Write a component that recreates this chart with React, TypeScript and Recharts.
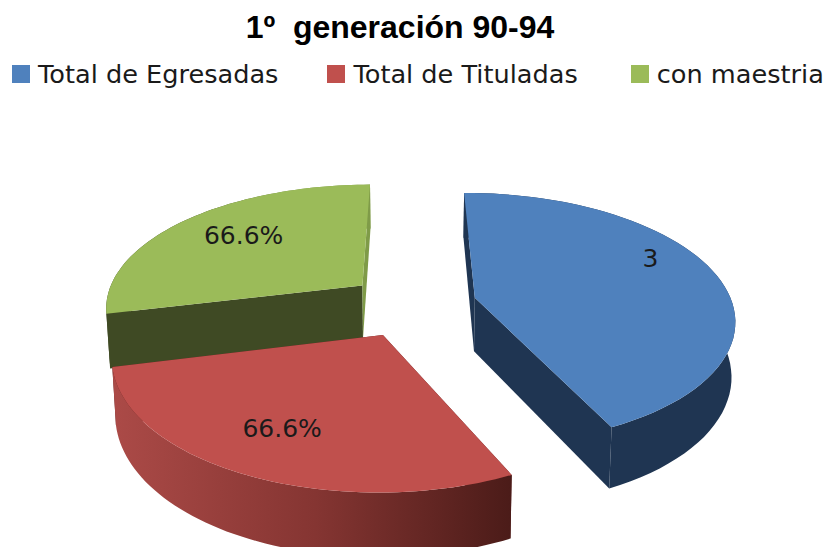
import { PieChart, Pie, Legend } from 'recharts';

const categories = ['Total de Egresadas', 'Total de Tituladas', 'con maestria'];
const values = [3, 2, 2];
const sliceLabels = ['3', '66.6%', '66.6%'];
const colors = ['#4f81bd', '#c0504d', '#9bbb59'];

// painted back to front, so the red wall sits over the green one
const drawOrder = [2, 0, 1];
const tableData = drawOrder.map((i) => ({ name: categories[i], value: values[i], fill: colors[i], idx: i }));

const WALLS = [
  { outer: '#1f3552', start: '#1f3552', end: '#1f3552' },
  { outer: 'url(#redWall)', start: '#5a2220', end: '#5a2220' },
  { outer: 'url(#greenWall)', start: '#3f4a24', end: '#7f9b48' },
];
const LABEL_RADIUS = [0.81, 0.71, 0.69];
const LABEL_TURN = [11, -2.5, -2];

const CX = 412;
const CY = 305;
const RADIUS = 258;
const EXPLODE = 65;
const SQUASH = 0.495;
const PERSPECTIVE = 0.16;
const DEPTH = 54;
const RAD = Math.PI / 180;

// flat pie coordinates to the tilted view
function project(wx: number, wy: number, low = false) {
  const s = 1 + (PERSPECTIVE * wy) / RADIUS;
  const k = low ? 0.988 : 1;
  return { x: CX + wx * s * k, y: CY + wy * SQUASH * s + (low ? DEPTH * s : 0) };
}

function toPath(pts: { x: number; y: number }[]) {
  return pts.map((p, i) => `${i ? 'L' : 'M'}${p.x.toFixed(1)} ${p.y.toFixed(1)}`).join(' ') + ' Z';
}

function Slice3D(props: any) {
  const { startAngle, endAngle, midAngle, outerRadius, idx, fill } = props;
  const ox = Math.cos(midAngle * RAD) * EXPLODE;
  const oy = -Math.sin(midAngle * RAD) * EXPLODE;
  const rim = (low: boolean) => {
    const pts = [];
    const steps = 60;
    for (let i = 0; i <= steps; i++) {
      const a = (startAngle + ((endAngle - startAngle) * i) / steps) * RAD;
      pts.push(project(ox + Math.cos(a) * outerRadius, oy - Math.sin(a) * outerRadius, low));
    }
    return pts;
  };
  const top = rim(false);
  const low = rim(true);
  const apex = project(ox, oy);
  const apexLow = project(ox, oy, true);
  const wall = WALLS[idx];
  return (
    <g>
      <path d={toPath([apex, top[0], low[0], apexLow])} fill={wall.start} />
      <path d={toPath([apex, top[top.length - 1], low[low.length - 1], apexLow])} fill={wall.end} />
      <path d={toPath([...top, ...low.slice().reverse()])} fill={wall.outer} />
      <path d={toPath([apex, ...top])} fill={fill} />
    </g>
  );
}

function SliceLabel(props: any) {
  const { midAngle, outerRadius, idx } = props;
  const ox = Math.cos(midAngle * RAD) * EXPLODE + Math.cos((midAngle + LABEL_TURN[idx]) * RAD) * outerRadius * LABEL_RADIUS[idx];
  const oy = -Math.sin(midAngle * RAD) * EXPLODE - Math.sin((midAngle + LABEL_TURN[idx]) * RAD) * outerRadius * LABEL_RADIUS[idx];
  const p = project(ox, oy);
  return (
    <text x={p.x} y={p.y} textAnchor="middle" dominantBaseline="central" fontFamily="DejaVu Sans" fontSize={25} fill="#1a1a1a">
      {sliceLabels[idx]}
    </text>
  );
}

function LegendRow({ payload }: any) {
  const items = [...(payload ?? [])].sort((a, b) => categories.indexOf(a.value) - categories.indexOf(b.value));
  const gaps = [12, 49, 53];
  return (
    <div style={{ display: 'flex', alignItems: 'center', fontFamily: 'DejaVu Sans', fontSize: 25.6, color: '#1a1a1a' }}>
      {items.map((it: any, i: number) => (
        <div key={it.value} style={{ display: 'flex', alignItems: 'center', marginLeft: gaps[i], whiteSpace: 'nowrap' }}>
          <span style={{ width: 18, height: 18, background: it.color, marginRight: 8 }} />
          {it.value}
        </div>
      ))}
    </div>
  );
}

export default function App() {
  return (
    <div style={{ position: 'relative', width: 827, height: 547, background: '#fff' }}>
      <style>{'body { margin: 0; }'}</style>
      <div style={{ position: 'absolute', top: 9, left: 0, width: 800, textAlign: 'center', fontFamily: 'Liberation Sans', fontWeight: 700, fontSize: 32 }}>
        1º&nbsp; generación 90-94
      </div>
      <PieChart width={827} height={547} margin={{ top: 0, right: 0, bottom: 0, left: 0 }}>
        <defs>
          <linearGradient id="redWall" gradientUnits="userSpaceOnUse" x1="115" y1="0" x2="515" y2="0">
            <stop offset="0" stopColor="#ab4a47" />
            <stop offset="0.5" stopColor="#853532" />
            <stop offset="1" stopColor="#4a1b18" />
          </linearGradient>
          <linearGradient id="greenWall" gradientUnits="userSpaceOnUse" x1="200" y1="0" x2="300" y2="0">
            <stop offset="0" stopColor="#3f4a24" />
            <stop offset="1" stopColor="#7f9b48" />
          </linearGradient>
        </defs>
        <Legend content={<LegendRow />} wrapperStyle={{ top: 59, left: 0, width: 827 }} />
        <Pie
          data={tableData}
          dataKey="value"
          nameKey="name"
          cx={CX}
          cy={CY}
          innerRadius={0}
          outerRadius={RADIUS}
          startAngle={-167}
          endAngle={-527}
          stroke="none"
          shape={Slice3D}
          label={SliceLabel}
          labelLine={false}
          isAnimationActive={false}
        />
      </PieChart>
    </div>
  );
}
